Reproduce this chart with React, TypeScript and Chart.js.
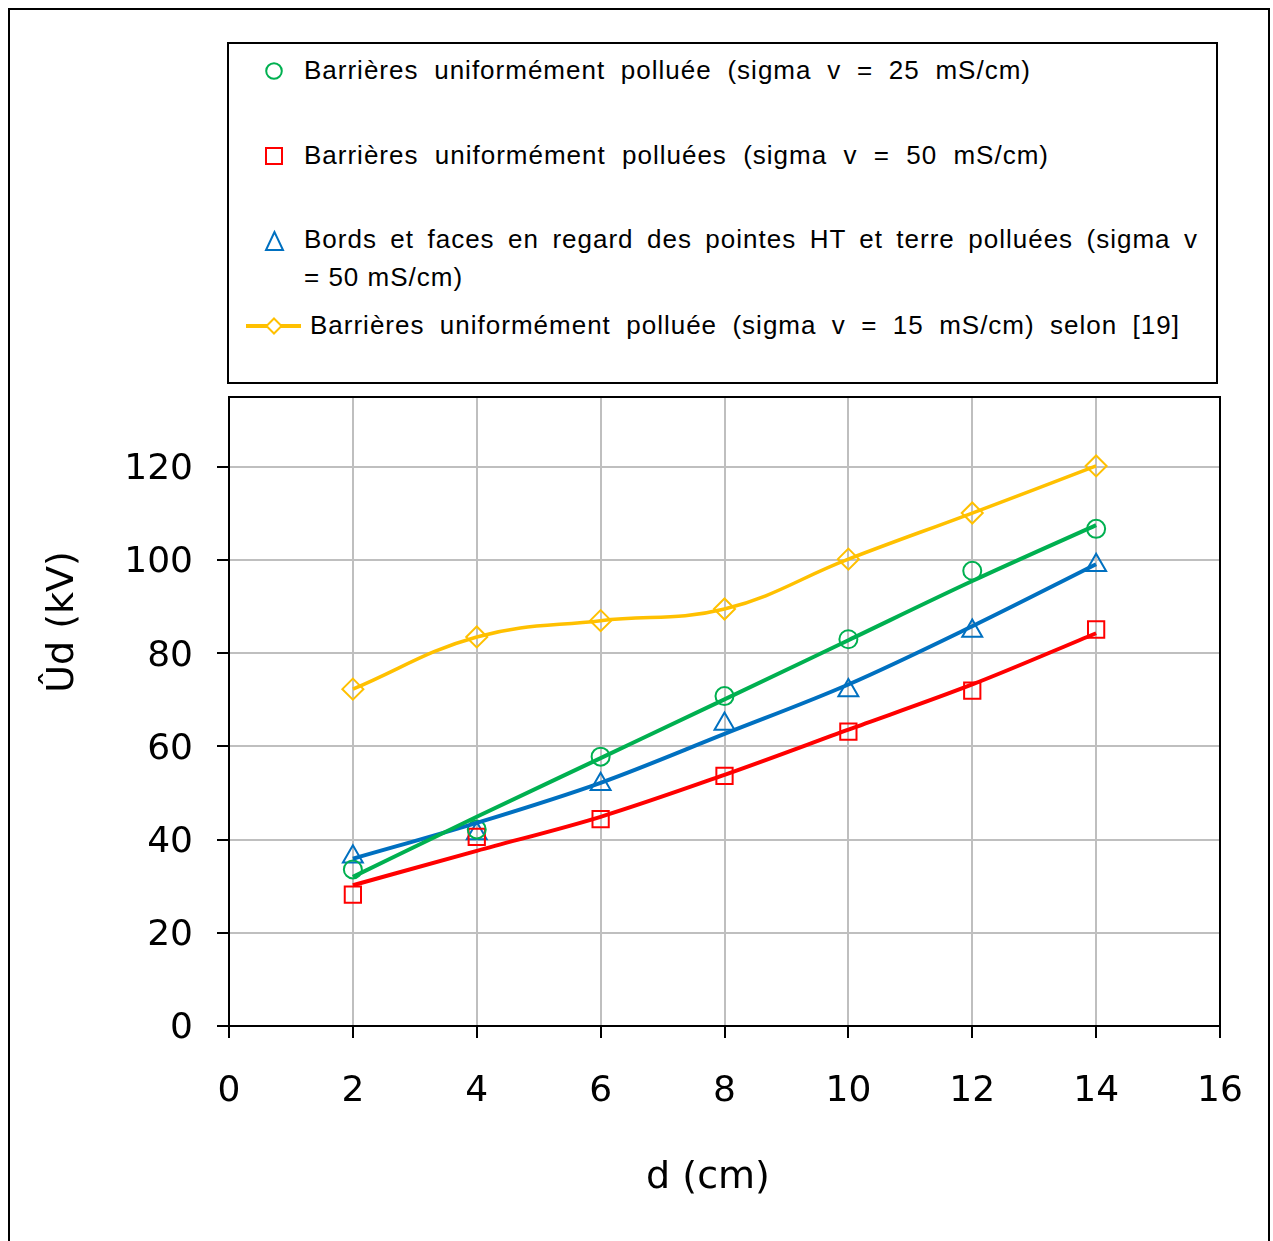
import React, { useEffect, useRef } from 'react';
import { Chart, registerables } from 'chart.js';

Chart.register(...registerables);

// ---- data ----
const distances = [2, 4, 6, 8, 10, 12, 14];
const green25Points = [33.6, 42.2, 57.8, 70.8, 83.0, 97.7, 106.7];
const red50Points = [28.2, 40.6, 44.4, 53.7, 63.2, 72.0, 85.1];
const blueEdgesPoints = [36.3, 41.3, 51.9, 64.8, 72.0, 84.8, 98.9];
const yellow15Points = [72.3, 83.5, 87.0, 89.5, 100.2, 110.1, 120.2];
const green25Trend = [32.0, 44.9, 57.5, 70.1, 82.8, 95.5, 107.5];
const red50Trend = [30.2, 37.6, 44.9, 53.9, 63.6, 73.3, 84.3];
const blueEdgesTrend = [35.9, 43.6, 52.2, 62.7, 73.3, 85.8, 99.1];
const xTickValues = [0, 2, 4, 6, 8, 10, 12, 14, 16];
const yTickValues = [0, 20, 40, 60, 80, 100, 120];

const legendLabels = [
  'Barrières uniformément polluée (sigma v = 25 mS/cm)',
  'Barrières uniformément polluées (sigma v = 50 mS/cm)',
  'Bords et faces en regard des pointes HT et terre polluées (sigma v',
  '= 50 mS/cm)',
  'Barrières uniformément polluée (sigma v = 15 mS/cm) selon [19]',
];
const xTitle = 'd (cm)';
const yTitle = 'Ûd (kV)';

const GREEN = '#00B050';
const RED = '#FF0000';
const BLUE = '#0070C0';
const YELLOW = '#FFC000';
const TICK_FONT = "'DejaVu Sans', Verdana, sans-serif";
const LEGEND_FONT = "'Liberation Sans', Arial, sans-serif";

const toPts = (ys: number[]) => distances.map((x, i) => ({ x, y: ys[i] }));

const framePlugin = {
  id: 'plotFrame',
  beforeDatasetsDraw(chart: any) {
    const { ctx, chartArea } = chart;
    ctx.save();
    ctx.strokeStyle = '#000';
    ctx.lineWidth = 2;
    ctx.strokeRect(chartArea.left, chartArea.top, chartArea.right - chartArea.left, chartArea.bottom - chartArea.top);
    ctx.restore();
  },
};

const titlePlugin = {
  id: 'axisTitles',
  afterDraw(chart: any) {
    const { ctx } = chart;
    ctx.save();
    ctx.fillStyle = '#000';
    ctx.font = `38px ${TICK_FONT}`;
    ctx.textAlign = 'center';
    ctx.textBaseline = 'middle';
    ctx.fillText(xTitle, 708, 1178);
    ctx.translate(63, 622);
    ctx.rotate(-Math.PI / 2);
    ctx.fillText(yTitle, 0, 0);
    ctx.restore();
  },
};

export default function App() {
  const ref = useRef<HTMLCanvasElement>(null);

  useEffect(() => {
    if (!ref.current) return;
    const pointDs = (label: string, ys: number[], color: string, style: string, r: number) => ({
      label,
      data: toPts(ys),
      showLine: false,
      pointStyle: style,
      pointRadius: r,
      pointHoverRadius: r,
      pointBorderColor: color,
      pointBorderWidth: 2,
      pointBackgroundColor: 'rgba(0,0,0,0)',
      borderColor: color,
      backgroundColor: 'rgba(0,0,0,0)',
    });
    const trendDs = (label: string, ys: number[], color: string) => ({
      label,
      data: toPts(ys),
      showLine: true,
      pointRadius: 0,
      borderColor: color,
      borderWidth: 4,
      cubicInterpolationMode: 'monotone',
      backgroundColor: 'rgba(0,0,0,0)',
    });
    const chart = new Chart(ref.current, {
      type: 'scatter',
      data: {
        datasets: [
          trendDs('trend 25', green25Trend, GREEN),
          trendDs('trend 50', red50Trend, RED),
          trendDs('trend bords', blueEdgesTrend, BLUE),
          pointDs(legendLabels[0], green25Points, GREEN, 'circle', 9),
          pointDs(legendLabels[1], red50Points, RED, 'rect', 11.5),
          pointDs(legendLabels[2], blueEdgesPoints, BLUE, 'triangle', 11.5),
          {
            label: legendLabels[4],
            data: toPts(yellow15Points),
            showLine: true,
            tension: 0.4,
            borderColor: YELLOW,
            borderWidth: 3.5,
            backgroundColor: 'rgba(0,0,0,0)',
            pointStyle: 'rectRot',
            pointRadius: 10.5,
            pointHoverRadius: 10.5,
            pointBorderColor: YELLOW,
            pointBorderWidth: 2,
            pointBackgroundColor: 'rgba(0,0,0,0)',
          },
        ] as any,
      },
      options: {
        responsive: false,
        animation: false,
        layout: { padding: { top: 397, right: 53, left: 0, bottom: 0 } },
        plugins: { legend: { display: false }, tooltip: { enabled: false } },
        scales: {
          x: {
            type: 'linear',
            min: 0,
            max: 16,
            afterBuildTicks: (s: any) => {
              s.ticks = xTickValues.map((v) => ({ value: v }));
            },
            afterFit: (s: any) => {
              s.height = 215;
              s.paddingLeft = 0;
              s.paddingRight = 0;
            },
            grid: { color: '#BFBFBF', lineWidth: 2, tickColor: '#000', tickLength: 12, tickWidth: 2 },
            border: { color: '#000', width: 2 },
            ticks: { font: { family: TICK_FONT, size: 36 }, color: '#000', padding: 32, maxRotation: 0, autoSkip: false },
          },
          y: {
            type: 'linear',
            min: 0,
            max: 135,
            afterBuildTicks: (s: any) => {
              s.ticks = yTickValues.map((v) => ({ value: v }));
            },
            afterFit: (s: any) => {
              s.width = 229;
            },
            grid: { color: '#BFBFBF', lineWidth: 2, tickColor: '#000', tickLength: 12, tickWidth: 2 },
            border: { color: '#000', width: 2 },
            ticks: { font: { family: TICK_FONT, size: 36 }, color: '#000', padding: 24, labelOffset: 3, autoSkip: false },
          },
        },
      } as any,
      plugins: [framePlugin, titlePlugin],
    });
    return () => chart.destroy();
  }, []);

  const textLine = (text: string, left: number, top: number, width: number, justify: boolean) => (
    <div
      style={{
        position: 'absolute',
        left,
        top,
        width,
        fontFamily: LEGEND_FONT,
        fontSize: 26,
        lineHeight: '26px',
        letterSpacing: '1px',
        color: '#000',
        textAlign: justify ? 'justify' : 'left',
        textAlignLast: justify ? 'justify' : 'left',
      } as any}
    >
      {text}
    </div>
  );

  return (
    <div style={{ position: 'fixed', left: 0, top: 0, width: 1273, height: 1241, background: '#fff', overflow: 'hidden' }}>
      <div style={{ position: 'absolute', left: 8, top: 8, width: 1258, height: 1260, border: '2px solid #000' }} />
      <canvas ref={ref} width={1273} height={1241} style={{ position: 'absolute', left: 0, top: 0 }} />
      <div
        style={{
          position: 'absolute',
          left: 227,
          top: 42,
          width: 987,
          height: 338,
          border: '2px solid #000',
          background: '#fff',
        }}
      >
        <svg width={987} height={338} style={{ position: 'absolute', left: 0, top: 0 }}>
          <circle cx={45} cy={27} r={7.8} fill="none" stroke={GREEN} strokeWidth={2} />
          <rect x={37} y={104} width={16} height={16} fill="none" stroke={RED} strokeWidth={2} />
          <polygon points="45.5,188 37,206 54,206" fill="none" stroke={BLUE} strokeWidth={2} />
          <line x1={17} y1={282} x2={72} y2={282} stroke={YELLOW} strokeWidth={4} />
          <polygon points="45,274.5 52.5,282 45,289.5 37.5,282" fill="#fff" stroke={YELLOW} strokeWidth={2} />
        </svg>
      </div>
      {textLine(legendLabels[0], 304, 57, 727, true)}
      {textLine(legendLabels[1], 304, 142, 745, true)}
      {textLine(legendLabels[2], 304, 226, 894, true)}
      {textLine(legendLabels[3], 304, 264, 300, false)}
      {textLine(legendLabels[4], 310, 312, 870, true)}
    </div>
  );
}
